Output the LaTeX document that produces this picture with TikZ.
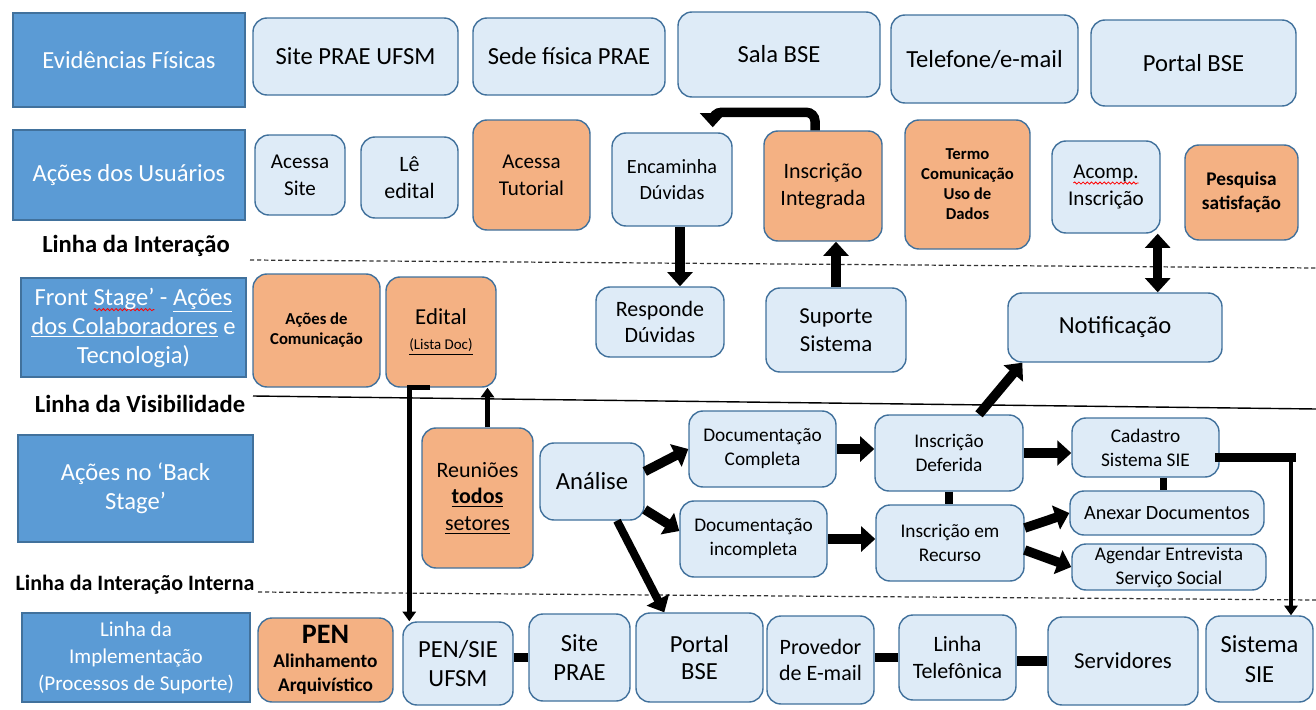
\documentclass[tikz,border=0pt]{standalone}
\usepackage{fontspec}
\setmainfont{Carlito}
\usetikzlibrary{arrows.meta,decorations.pathmorphing}
\definecolor{lane}{HTML}{5B9BD5}
\definecolor{rim}{HTML}{41719C}
\definecolor{pale}{HTML}{DEEBF7}
\definecolor{peach}{HTML}{F4B183}
% red wavy underline (spell-check mark)
\newcommand\spellmark[1]{\setbox0\hbox{#1}\leavevmode\rlap{\tikz[overlay,x=1pt,y=1pt]\draw[red, sharp corners, line width=0.45pt, decorate, decoration={snake, amplitude=0.6pt, segment length=2.4pt}] (0pt,-2.6pt) -- (\the\wd0,-2.6pt);}\box0\relax}
% box given by its corners (x1,y1) (x2,y2), in pixels from the top left
\newcommand{\cbox}[7]{\node[#1, minimum width={(#5-#3)*0.02cm}, minimum height={(#6-#4)*0.02cm}] (#2) at ({(#3+#5)/2},{(#4+#6)/2}) {#7};}
\tikzset{
  t14/.style={font=\fontsize{14}{17}\selectfont},
  t13/.style={font=\fontsize{13}{16}\selectfont},
  t125/.style={font=\fontsize{12.5}{15.2}\selectfont},
  t12/.style={font=\fontsize{12}{15.4}\selectfont},
  t115/.style={font=\fontsize{11.5}{14.5}\selectfont},
  t11/.style={font=\fontsize{11}{13.6}\selectfont},
  b95/.style={font=\fontsize{9.5}{11.4}\selectfont\bfseries},
  b11/.style={font=\fontsize{11}{13.7}\selectfont\bfseries},
  lanebox/.style={draw=rim, fill=lane, line width=0.8pt, text=white, align=center, inner sep=0pt,
    font=\fontsize{14}{16.5}\selectfont},
  card/.style={draw=rim, fill=pale, line width=0.8pt, rounded corners=0.28cm, align=center, inner sep=0pt},
  hot/.style={card, fill=peach},
  tag/.style={font=\fontsize{14}{17}\selectfont\bfseries, inner sep=0pt},
  flow/.style={line width=5.4pt, -{Triangle[width=14pt,length=8pt]}},
  flowm/.style={line width=2.6pt, -{Triangle[width=7.5pt,length=5.5pt]}},
  twoway/.style={line width=5.4pt, {Triangle[width=14pt,length=8pt]}-{Triangle[width=14pt,length=8pt]}},
  bar/.style={line width=5.2pt},
  slim/.style={line width=4.4pt},
  sep/.style={line width=0.7pt, dash pattern=on 2.4pt off 1.6pt, black!80},
}
\begin{document}
\begin{tikzpicture}[x=0.02cm, y=-0.02cm]
\useasboundingbox (0,0) rectangle (1316,710);

% ---- Evidências físicas
\cbox{lanebox}{lEvid}{13}{13}{245}{107}{Evidências Físicas}
\cbox{card,t14}{ev1}{253}{18}{458}{95}{Site PRAE UFSM}
\cbox{card,t14}{ev2}{473}{18}{665}{95}{Sede física PRAE}
\cbox{card,t14}{ev3}{678}{12}{880}{97}{Sala BSE}
\cbox{card,t14}{ev4}{891}{15}{1078}{103}{Telefone/e-mail}
\cbox{card,t14}{ev5}{1091}{20}{1296}{106}{Portal BSE}

% ---- Ações dos usuários
\cbox{lanebox}{lUser}{13}{130}{245}{220}{Ações dos Usuários}
\cbox{card,t12}{acSite}{255}{135}{345}{215}{Acessa\\Site}
\cbox{card,t125}{leEd}{361}{137}{458}{218}{Lê\\edital}
\cbox{hot,t12}{tut}{473}{120}{590}{230}{Acessa\\Tutorial}
\cbox{card,t115}{enc}{612}{133}{732}{226}{Encaminha\\Dúvidas}
\cbox{hot,t125}{insc}{764}{131}{882}{241}{Inscrição\\Integrada}
\cbox{hot,b95}{termo}{905}{120}{1030}{249}{Termo\\Comunicação\\Uso de\\Dados}
\cbox{card,t12}{acomp}{1052}{141}{1160}{233}{\spellmark{Acomp.}\\Inscrição}
\cbox{hot,b11}{pesq}{1185}{145}{1298}{240}{Pesquisa\\satisfação}

\node[tag] (tInter) at (136,246) {Linha da Interação};
\draw[sep] (250,260) -- (1316,268);

% ---- Front stage
\cbox{lanebox}{lFront}{21}{278}{246}{377}{Front \spellmark{Stage’} - \underline{Ações}\\\underline{dos Colaboradores} e\\Tecnologia)}
\cbox{hot,b95}{comm}{253}{274}{380}{387}{Ações de\\Comunicação}
\cbox{hot}{edital}{386}{277}{496}{387}{{\fontsize{13}{15}\selectfont Edital}\\[2pt]{\fontsize{8.5}{10}\selectfont\underline{(Lista Doc)}}}
\cbox{card,t125}{resp}{596}{287}{724}{357}{Responde\\Dúvidas}
\cbox{card,t13}{sup}{766}{288}{906}{372}{Suporte\\Sistema}
\cbox{card,t14}{notif}{1008}{293}{1222}{362}{Notificação}

\node[tag] (tVis) at (140,404) {Linha da Visibilidade};
\draw[line width=0.8pt] (253,396) -- (1316,409);

% ---- Back stage
\cbox{lanebox}{lBack}{18}{435}{253}{542}{Ações no ‘Back\\Stage’}
\cbox{hot,t125}{reun}{422}{428}{533}{568}{Reuniões\\\textbf{\underline{todos}}\\\underline{setores}}
\cbox{card,t14}{anal}{540}{443}{644}{520}{Análise}
\cbox{card,t11}{docC}{689}{411}{836}{487}{Documentação\\Completa}
\cbox{card,t11}{docI}{680}{501}{827}{577}{Documentação\\incompleta}
\cbox{card,t11}{defer}{875}{415}{1023}{491}{Inscrição\\Deferida}
\cbox{card,t11}{recur}{876}{505}{1024}{581}{Inscrição em\\Recurso}
\cbox{card,t11}{cad}{1072}{418}{1219}{477}{Cadastro\\Sistema SIE}
\cbox{card,t115}{anex}{1070}{491}{1264}{535}{Anexar Documentos}
\cbox{card,t11}{agen}{1072}{544}{1266}{590}{Agendar Entrevista\\Serviço Social}

\node[tag, font=\fontsize{12.5}{15}\selectfont\bfseries] (tInt) at (135,585) {Linha da Interação Interna};
\draw[sep] (258,592) -- (1316,600);

% ---- Processos de suporte
\cbox{lanebox, font=\fontsize{12}{15.4}\selectfont}{lImpl}{22}{613}{250}{702}{Linha da\\Implementação\\(Processos de Suporte)}
\cbox{hot,b11}{pen}{258}{618}{393}{702}{{\fontsize{16}{17}\selectfont PEN}\\Alinhamento\\Arquivístico}
\cbox{card,font=\fontsize{14}{16}\selectfont}{pensie}{403}{622}{513}{705}{PEN/SIE\\UFSM}
\cbox{card,font=\fontsize{14}{16}\selectfont}{siteP}{529}{614}{630}{701}{Site\\PRAE}
\cbox{card,font=\fontsize{14}{15.5}\selectfont}{portalB}{636}{613}{763}{702}{Portal\\BSE}
\cbox{card,font=\fontsize{12.5}{15}\selectfont}{prov}{767}{616}{874}{704}{Provedor\\de E-mail}
\cbox{card,font=\fontsize{12.5}{15.4}\selectfont}{linTel}{899}{615}{1016}{700}{Linha\\Telefônica}
\cbox{card,t13}{serv}{1048}{617}{1198}{705}{Servidores}
\cbox{card,font=\fontsize{14}{17}\selectfont}{sisS}{1206}{616}{1313}{702}{Sistema\\SIE}

% ---- connectors
\draw[flow, rounded corners=5pt] ([xshift=-0.16cm]insc.north) |- ([xshift=-0.4cm,yshift=0.4cm]enc.north east) -- ([xshift=-0.4cm,yshift=0.1cm]enc.north east);
\draw[flow] ([xshift=0.16cm]enc.south) coordinate (e1) -- (e1 |- resp.north);
\draw[flow] (sup.north) -- (sup.north |- insc.south);
\draw[twoway] ([xshift=-0.06cm]acomp.south east) coordinate (a1) -- (a1 |- notif.north);
\draw[flow] ([xshift=0.6cm]defer.north) -- ([xshift=0.3cm]notif.south west);
\draw[flowm] ([xshift=0.9cm]edital.south west) -| ([xshift=0.14cm]pensie.north west);
\draw[flowm] ([xshift=0.2cm]reun.north) coordinate (r1) -- (r1 |- edital.south);
\draw[flow] ([yshift=0.2cm]anal.east) -- (docC.west);
\draw[flow] ([yshift=-0.56cm]anal.east) -- ([yshift=0.16cm]docI.west);
\draw[flow, line width=4.6pt] ([xshift=0.5cm]anal.south) -- ([xshift=0.58cm]portalB.north west);
\draw[flow] (docC.east) -- (docC.east -| defer.west);
\draw[flow] (docI.east) -- (docI.east -| recur.west);
\draw[slim] (defer.south) -- (defer.south |- recur.north);
\draw[flow] (defer.east) -- (defer.east -| cad.west);
\draw[slim] ([xshift=0.36cm]cad.south) coordinate (c1) -- (c1 |- anex.north);
\draw[flow] ([yshift=0.3cm]recur.east) -- (anex.west);
\draw[flow] ([yshift=-0.14cm]recur.east) -- (agen.west);
\path ([yshift=-0.2cm]cad.east) coordinate (k0) ([xshift=0.63cm]sisS.north) coordinate (k1);
\draw[bar, line cap=rect] (k0) -- (k0 -| k1);
\draw[flowm, line width=2.8pt] (k0 -| k1) -- (k1);
\draw[bar] (siteP.west) -- (siteP.west -| pensie.east);
\draw[bar] (linTel.west) -- (linTel.west -| prov.east);
\draw[bar] (serv.west) -- (serv.west -| linTel.east);
\end{tikzpicture}
\end{document}
